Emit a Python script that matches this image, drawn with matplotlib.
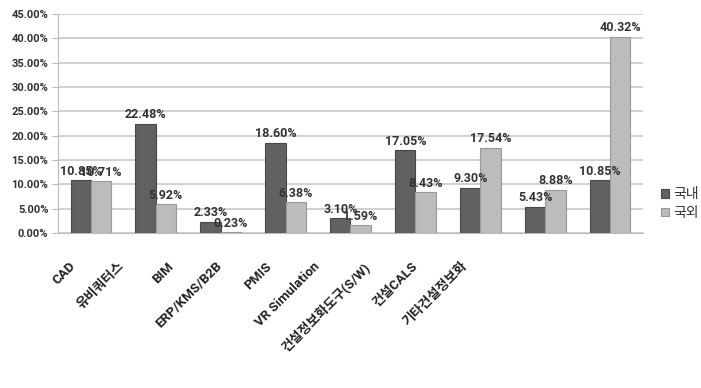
import matplotlib
matplotlib.use("Agg")
import matplotlib.pyplot as plt
import numpy as np

categories = ["CAD", "유비쿼터스", "BIM", "ERP/KMS/B2B", "PMIS", "VR Simulation",
              "건설정보화도구(S/W)", "건설CALS", "기타건설정보화"]
domestic = [10.85, 22.48, 2.33, 18.60, 3.10, 17.05, 9.30, 5.43, 10.85]
overseas = [10.71, 5.92, 0.23, 6.38, 1.59, 8.43, 17.54, 8.88, 40.32]
series_names = ["국내", "국외"]
yticks = [0, 5, 10, 15, 20, 25, 30, 35, 40, 45]

plt.rcParams['font.family'] = ['Roboto', 'Noto Sans CJK KR', 'DejaVu Sans']

fig = plt.figure(figsize=(7.01, 3.88), dpi=100)
ax = fig.add_axes([0.083, 0.399, 0.834, 0.565])

x = np.arange(len(categories))
w = 0.31
b1 = ax.bar(x - w/2, domestic, w, color="#616161", edgecolor="#484848", linewidth=0.8,
            label=series_names[0], zorder=3)
b2 = ax.bar(x + w/2, overseas, w, color="#bcbcbc", edgecolor="#999999", linewidth=0.8,
            label=series_names[1], zorder=3)

for bars, vals in ((b1, domestic), (b2, overseas)):
    for r, v in zip(bars, vals):
        ax.text(r.get_x() + r.get_width()/2, v + 0.5, f"{v:.2f}%", ha="center", va="bottom",
                fontsize=9, fontweight="bold", color="#333333", zorder=4)

ax.set_xlim(-0.5, len(categories) - 0.5)
ax.set_ylim(0, 45)
ax.set_yticks(yticks)
ax.set_yticklabels([f"{t:.2f}%" for t in yticks], fontsize=8, fontweight="bold", color="#333333")
ax.set_xticks(x)
ax.set_xticklabels([])
ax.tick_params(axis="x", length=0)
ax.tick_params(axis="y", length=4, color="#bbbbbb", pad=3)
ax.yaxis.grid(True, color="#c8c8c8", linewidth=1.2, zorder=0)
ax.set_axisbelow(True)
for s in ("top", "right"):
    ax.spines[s].set_visible(False)
ax.spines["left"].set_color("#bbbbbb")
ax.spines["bottom"].set_color("#bbbbbb")

# category labels on a compressed secondary scale (as in the reference)
scale, shift = 0.754, -0.34
sec = ax.secondary_xaxis("bottom", functions=(lambda v: (v - shift) / scale,
                                              lambda s: s * scale + shift))
sec.set_xticks(x)
sec.set_xticklabels(categories, rotation=45, ha="right", rotation_mode="anchor",
                    fontsize=9.5, fontweight="bold", color="#222222")
sec.tick_params(axis="x", length=0, pad=19)
sec.spines["bottom"].set_visible(False)

leg = fig.legend(handles=[b1, b2], labels=series_names, loc="upper left",
                 bbox_to_anchor=(0.925, 0.55), frameon=False, fontsize=10,
                 handlelength=0.6, handleheight=0.6, handletextpad=0.3, labelspacing=0.35)
for t in leg.get_texts():
    t.set_color("#333333")

fig.savefig("out.png", dpi=100)
